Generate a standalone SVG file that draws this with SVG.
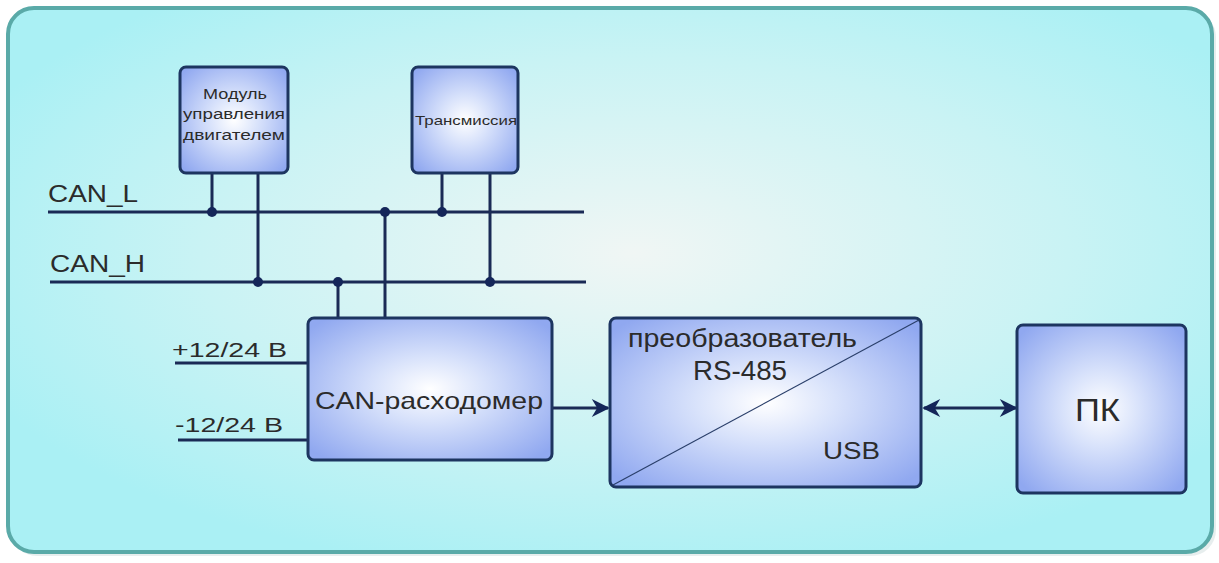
<svg xmlns="http://www.w3.org/2000/svg" width="1219" height="563" viewBox="0 0 1219 563">
<defs>
<radialGradient id="bg" cx="0.52" cy="0.45" r="0.6">
<stop offset="0" stop-color="#f0f6f4"/>
<stop offset="0.6" stop-color="#c9f3f4"/>
<stop offset="1" stop-color="#aaf0f4"/>
</radialGradient>
<radialGradient id="box" cx="0.5" cy="0.5" r="0.65">
<stop offset="0" stop-color="#ffffff"/>
<stop offset="0.35" stop-color="#d8e2fb"/>
<stop offset="1" stop-color="#90a8f0"/>
</radialGradient>
<marker id="ah" viewBox="0 0 10 10" refX="9" refY="5" markerWidth="6.5" markerHeight="6" orient="auto-start-reverse" markerUnits="strokeWidth">
<path d="M0,0 L10,5 L0,10 L3,5 z" fill="#142659"/>
</marker>
<style>
.node{fill:url(#box);stroke:#1d3560;stroke-width:3}
.w{stroke:#1a2a55;stroke-width:3;fill:none}
.dot{fill:#142659}
.t{font-family:"Liberation Sans",Arial,sans-serif;fill:#2b2b2b}
</style>
</defs>
<rect x="11" y="11" width="1205" height="545" rx="26" fill="#d7e3e3" opacity="0.6"/>
<rect x="8" y="8" width="1204" height="544" rx="26" fill="url(#bg)" stroke="#5aaaa8" stroke-width="4"/>

<g id="connectors">
<line class="w" x1="48" y1="212" x2="584" y2="212"/>
<line class="w" x1="50" y1="282" x2="586" y2="282"/>
<line class="w" x1="212" y1="173" x2="212" y2="212"/>
<line class="w" x1="258" y1="173" x2="258" y2="282"/>
<line class="w" x1="442" y1="173" x2="442" y2="212"/>
<line class="w" x1="490" y1="173" x2="490" y2="282"/>
<line class="w" x1="338" y1="282" x2="338" y2="318"/>
<line class="w" x1="385" y1="212" x2="385" y2="318"/>
<line class="w" x1="175" y1="363" x2="308" y2="363"/>
<line class="w" x1="178" y1="440" x2="308" y2="440"/>
<line class="w" x1="552" y1="408" x2="608" y2="408" marker-end="url(#ah)"/>
<line class="w" x1="924" y1="408" x2="1016" y2="408" marker-start="url(#ah)" marker-end="url(#ah)"/>
<circle class="dot" cx="212" cy="212" r="5"/>
<circle class="dot" cx="385" cy="212" r="5"/>
<circle class="dot" cx="442" cy="212" r="5"/>
<circle class="dot" cx="258" cy="282" r="5"/>
<circle class="dot" cx="338" cy="282" r="5"/>
<circle class="dot" cx="490" cy="282" r="5"/>
</g>

<g id="labels">
<text class="t" x="48" y="202" font-size="23" textLength="90" lengthAdjust="spacingAndGlyphs">CAN_L</text>
<text class="t" x="50" y="272" font-size="23" textLength="95" lengthAdjust="spacingAndGlyphs">CAN_H</text>
<text class="t" x="172" y="357" font-size="21" textLength="115" lengthAdjust="spacingAndGlyphs">+12/24 В</text>
<text class="t" x="175" y="432" font-size="21" textLength="108" lengthAdjust="spacingAndGlyphs">-12/24 В</text>
</g>

<g id="module">
<rect class="node" x="180" y="67" width="108" height="106" rx="6"/>
<text class="t" x="203" y="99" font-size="14" textLength="64" lengthAdjust="spacingAndGlyphs">Модуль</text>
<text class="t" x="183" y="119" font-size="14" textLength="102" lengthAdjust="spacingAndGlyphs">управления</text>
<text class="t" x="183" y="140" font-size="14" textLength="102" lengthAdjust="spacingAndGlyphs">двигателем</text>
</g>

<g id="transmission">
<rect class="node" x="412" y="67" width="106" height="106" rx="6"/>
<text class="t" x="415" y="125" font-size="13" textLength="102" lengthAdjust="spacingAndGlyphs">Трансмиссия</text>
</g>

<g id="flowmeter">
<rect class="node" x="308" y="318" width="244" height="142" rx="6"/>
<text class="t" x="315" y="409" font-size="24" textLength="228" lengthAdjust="spacingAndGlyphs">CAN-расходомер</text>
</g>

<g id="converter">
<rect class="node" x="610" y="318" width="311" height="169" rx="6"/>
<line x1="613" y1="485" x2="919" y2="320" stroke="#2a3f6a" stroke-width="1.2"/>
<text class="t" x="628" y="347" font-size="25" textLength="229" lengthAdjust="spacingAndGlyphs">преобразователь</text>
<text class="t" x="693" y="380" font-size="27" textLength="94" lengthAdjust="spacingAndGlyphs">RS-485</text>
<text class="t" x="823" y="459" font-size="24.5" textLength="57" lengthAdjust="spacingAndGlyphs">USB</text>
</g>

<g id="pc">
<rect class="node" x="1017" y="325" width="169" height="168" rx="6"/>
<text class="t" x="1075" y="421" font-size="31" textLength="45" lengthAdjust="spacingAndGlyphs">ПК</text>
</g>
</svg>
